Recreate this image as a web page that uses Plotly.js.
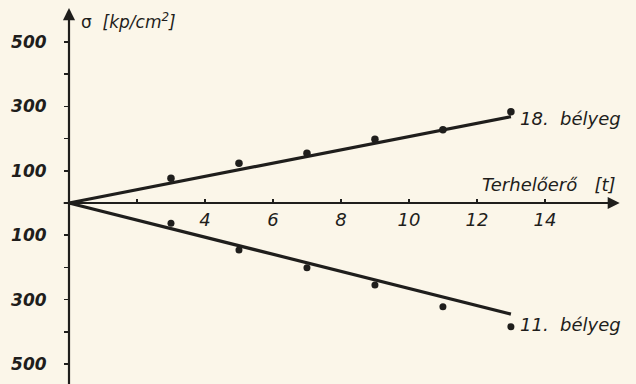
<!DOCTYPE html>
<html>
<head>
<meta charset="utf-8">
<script src="https://cdn.plot.ly/plotly-3.0.1.min.js"></script>
<style>
  html, body { margin: 0; padding: 0; background: #fbf6e9; }
  #chart { width: 636px; height: 384px; }
</style>
</head>
<body>
<div id="chart"></div>
<script>
// Load in tonnes and measured stress (kp/cm²) for the two gauges
const loads = [3, 5, 7, 9, 11, 13];
const sigma18 = [77, 123, 154, 198, 227, 283];
const sigma11 = [-63, -146, -201, -255, -322, -384];

// Fitted straight lines through the origin
const fitX = [0, 13];
const fit18 = [0, 268];
const fit11 = [0, -345];

// Axis ticks
const xTickVals = [2, 4, 6, 8, 10, 12, 14];
const xTickText = ['', '4', '6', '8', '10', '12', '14'];
const yTickVals = [-500, -400, -300, -200, -100, 100, 200, 300, 400, 500];
const yTickText = ['500', '', '300', '', '100', '100', '', '300', '', '500'];

const ink = '#1f1e1c';
const paper = '#fbf6e9';
const font = 'DejaVu Sans, sans-serif';
const nb = '\u00A0';

const traces = [
  { x: fitX, y: fit18, mode: 'lines', line: { color: ink, width: 3.2 }, hoverinfo: 'skip' },
  { x: fitX, y: fit11, mode: 'lines', line: { color: ink, width: 3.2 }, hoverinfo: 'skip' },
  { x: loads, y: sigma18, mode: 'markers', marker: { color: ink, size: 7.5 } },
  { x: loads, y: sigma11, mode: 'markers', marker: { color: ink, size: 7 } }
];

const layout = {
  width: 636,
  height: 384,
  margin: { l: 0, r: 0, t: 0, b: 0, pad: 0 },
  paper_bgcolor: paper,
  plot_bgcolor: paper,
  showlegend: false,
  font: { family: font, color: ink },
  xaxis: {
    range: [-2.03, 16.68],
    domain: [0, 1],
    anchor: 'free',
    position: 0.4714,
    showgrid: false,
    zeroline: false,
    showline: false,
    tickmode: 'array',
    tickvals: xTickVals,
    ticktext: xTickText,
    ticks: 'inside',
    ticklen: 4,
    tickwidth: 1.6,
    tickcolor: ink,
    ticklabelstandoff: 4,
    tickfont: { family: font, size: 18, style: 'italic', color: ink }
  },
  yaxis: {
    range: [-562, 630],
    domain: [0, 1],
    anchor: 'free',
    position: 0.1085,
    showgrid: false,
    zeroline: false,
    showline: false,
    tickmode: 'array',
    tickvals: yTickVals,
    ticktext: yTickText,
    ticks: 'outside',
    ticklen: 5,
    tickwidth: 1.6,
    tickcolor: ink,
    ticklabelstandoff: 14,
    tickfont: { family: font, size: 17, style: 'italic', weight: 'bold', color: ink }
  },
  annotations: [
    // horizontal axis with arrow
    { x: 16.2, y: 0, ax: -0.2, ay: 0, xref: 'x', yref: 'y', axref: 'x', ayref: 'y',
      text: '', showarrow: true, arrowhead: 2, arrowsize: 1.2, arrowwidth: 2, arrowcolor: ink },
    // vertical axis with arrow
    { x: 0, y: 605, ax: 0, ay: -620, xref: 'x', yref: 'y', axref: 'x', ayref: 'y',
      text: '', showarrow: true, arrowhead: 2, arrowsize: 1.1, arrowwidth: 2.2, arrowcolor: ink },
    { x: 16.15, y: 58, xref: 'x', yref: 'y', xanchor: 'right', yanchor: 'middle',
      text: 'Terhelőerő' + nb + nb + nb + '[t]', showarrow: false,
      font: { family: font, size: 18, style: 'italic', color: ink } },
    { x: 0.3, y: 565, xref: 'x', yref: 'y', xanchor: 'left', yanchor: 'middle',
      text: 'σ' + nb + nb + '<i>[kp/cm<sup>2</sup>]</i>', showarrow: false,
      font: { family: font, size: 17, color: ink } },
    { x: 13.2, y: 262, xref: 'x', yref: 'y', xanchor: 'left', yanchor: 'middle',
      text: '18.' + nb + nb + 'bélyeg', showarrow: false,
      font: { family: font, size: 18, style: 'italic', color: ink } },
    { x: 13.2, y: -378, xref: 'x', yref: 'y', xanchor: 'left', yanchor: 'middle',
      text: '11.' + nb + nb + 'bélyeg', showarrow: false,
      font: { family: font, size: 18, style: 'italic', color: ink } }
  ]
};

Plotly.newPlot('chart', traces, layout, { displayModeBar: false, staticPlot: true });
</script>
</body>
</html>
